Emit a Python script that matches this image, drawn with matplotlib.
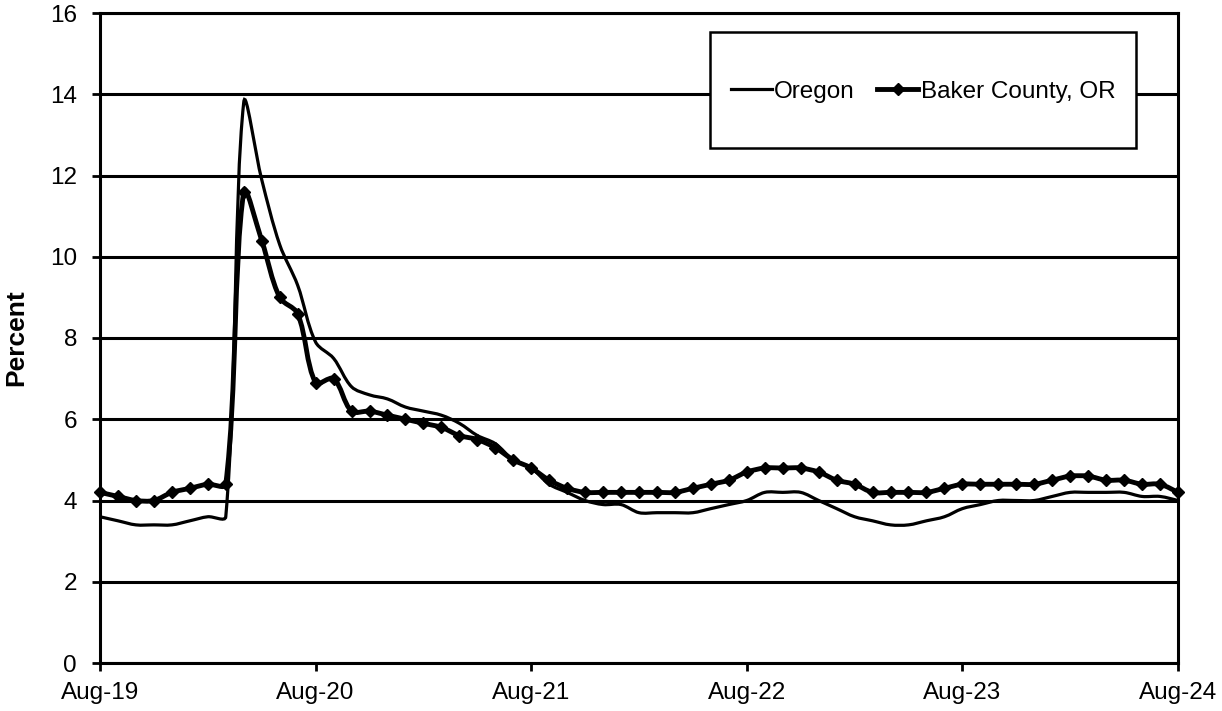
"""
Taxa de desemprego: Oregon x Baker County, OR (Aug-19 a Aug-24).
"""
import numpy as np
import matplotlib
matplotlib.use('Agg')
import matplotlib.pyplot as plt
from matplotlib.path import Path
from matplotlib.patches import PathPatch, Rectangle
from matplotlib.lines import Line2D

plt.rcParams['font.family'] = ['Liberation Sans', 'DejaVu Sans']

# dados mensais, Aug-19 .. Aug-24 (61 meses)
oregon = [3.6, 3.5, 3.4, 3.4, 3.4, 3.5, 3.6, 3.6, 13.8, 11.9,
          10.3, 9.3, 7.9, 7.5, 6.8, 6.6, 6.5, 6.3, 6.2, 6.1,
          5.9, 5.6, 5.4, 5.0, 4.8, 4.4, 4.2, 4.0, 3.9, 3.9,
          3.7, 3.7, 3.7, 3.7, 3.8, 3.9, 4.0, 4.2, 4.2, 4.2,
          4.0, 3.8, 3.6, 3.5, 3.4, 3.4, 3.5, 3.6, 3.8, 3.9,
          4.0, 4.0, 4.0, 4.1, 4.2, 4.2, 4.2, 4.2, 4.1, 4.1,
          4.0]
baker = [4.2, 4.1, 4.0, 4.0, 4.2, 4.3, 4.4, 4.4, 11.6, 10.4,
         9.0, 8.6, 6.9, 7.0, 6.2, 6.2, 6.1, 6.0, 5.9, 5.8,
         5.6, 5.5, 5.3, 5.0, 4.8, 4.5, 4.3, 4.2, 4.2, 4.2,
         4.2, 4.2, 4.2, 4.3, 4.4, 4.5, 4.7, 4.8, 4.8, 4.8,
         4.7, 4.5, 4.4, 4.2, 4.2, 4.2, 4.2, 4.3, 4.4, 4.4,
         4.4, 4.4, 4.4, 4.5, 4.6, 4.6, 4.5, 4.5, 4.4, 4.4,
         4.2]
tick_labels = ['Aug-19', 'Aug-20', 'Aug-21', 'Aug-22', 'Aug-23', 'Aug-24']
yticks = [0, 2, 4, 6, 8, 10, 12, 14, 16]

x = np.arange(len(oregon))


def smooth_path(xs, ys, sx, sy, tension=1/3):
    # linha suavizada estilo Excel (bezier com tangente ponderada pela distancia)
    xs = np.asarray(xs, float)
    ys = np.asarray(ys, float)
    n = len(xs)
    d = np.hypot(np.diff(xs) * sx, np.diff(ys) * sy)
    verts = [(xs[0], ys[0])]
    codes = [Path.MOVETO]
    for i in range(n - 1):
        a = max(i - 1, 0)
        b = min(i + 2, n - 1)
        t1 = np.array([xs[i + 1] - xs[a], ys[i + 1] - ys[a]])
        t2 = np.array([xs[b] - xs[i], ys[b] - ys[i]])
        f1 = d[i] / (d[i - 1] + d[i]) if i > 0 else 0.5
        f2 = d[i] / (d[i] + d[i + 1]) if i + 1 < n - 1 else 0.5
        c1 = np.array([xs[i], ys[i]]) + t1 * tension * f1
        c2 = np.array([xs[i + 1], ys[i + 1]]) - t2 * tension * f2
        verts += [tuple(c1), tuple(c2), (xs[i + 1], ys[i + 1])]
        codes += [Path.CURVE4] * 3
    return Path(verts, codes)


fig = plt.figure(figsize=(12.22, 7.11), dpi=100)
ax = fig.add_axes([100 / 1222, 48 / 711, 1078 / 1222, 650 / 711])

ax.set_xlim(0, 60)
ax.set_ylim(0, 16)

# escala em pixels por unidade, para a suavizacao
sx = 1078 / 60
sy = 650 / 16

ax.add_patch(PathPatch(smooth_path(x, oregon, sx, sy), fill=False,
                       edgecolor='black', lw=2.3, zorder=3, clip_on=False))
ax.add_patch(PathPatch(smooth_path(x, baker, sx, sy), fill=False,
                       edgecolor='black', lw=3.5, zorder=4, clip_on=False))
ax.plot(x, baker, linestyle='none', marker='D', ms=6.5, color='black',
        zorder=5, clip_on=False)

ax.set_yticks(yticks)
ax.set_xticks(np.arange(0, 61, 12))
ax.set_xticklabels(tick_labels)
ax.tick_params(axis='both', direction='out', length=5.5, width=2, labelsize=17.5,
               colors='black')
ax.tick_params(axis='y', pad=11)
ax.tick_params(axis='x', pad=8)
ax.grid(axis='y', color='black', lw=2.2, zorder=1)
ax.set_axisbelow(True)
for s in ax.spines.values():
    s.set_linewidth(2.2)
    s.set_color('black')

fig.text(16 / 1222, 1 - 338 / 711, 'Percent', rotation=90, ha='center',
         va='center', fontsize=19, fontweight='bold')

# caixa da legenda
x0, x1 = (710 - 100) / 1078, (1136 - 100) / 1078
y0, y1 = (663 - 148) / 650, (663 - 32) / 650
ax.add_patch(Rectangle((x0, y0), x1 - x0, y1 - y0, transform=ax.transAxes,
                       facecolor='white', edgecolor='black', lw=1.8, zorder=6))
handles = [Line2D([], [], color='black', lw=2.3),
           Line2D([], [], color='black', lw=3.5, marker='D', ms=6.5)]
leg = ax.legend(handles, ['Oregon', 'Baker County, OR'], ncol=2,
                loc='center', bbox_to_anchor=((x0 + x1) / 2, 0.879),
                frameon=False, fontsize=17.5, handlelength=1.7,
                handletextpad=0.1, columnspacing=0.9)
leg.set_zorder(7)

plt.savefig('out.png', dpi=100)
